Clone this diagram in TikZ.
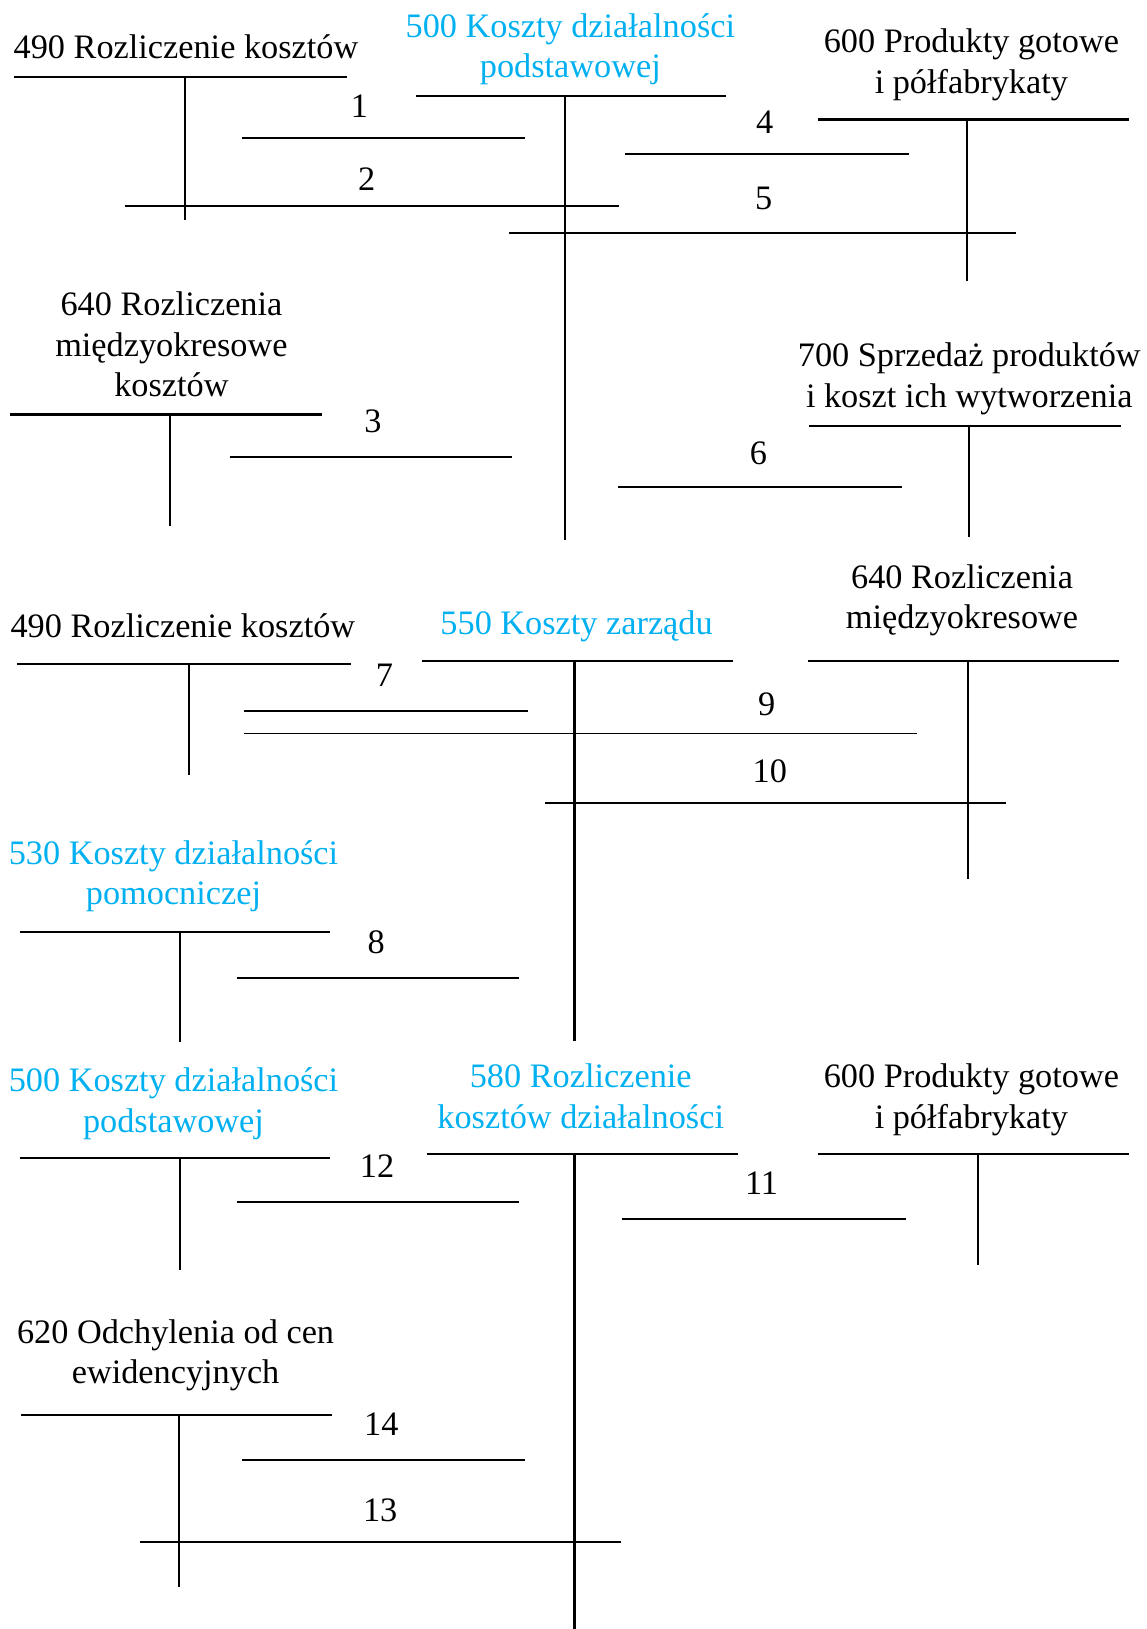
\documentclass[tikz,border=0pt]{standalone}
\usepackage{fontspec}
\setmainfont{Liberation Serif}
\usepackage{tikz}
\definecolor{acctblue}{RGB}{0,176,240}

\begin{document}
\begin{tikzpicture}[
    x=0.5pt, y=-0.5pt,
    % base = baseline of the last line
    acct title/.style={align=center, inner sep=0pt, anchor=base,
      font=\fontsize{16.5}{19.5}\selectfont},
    blue title/.style={acct title, text=acctblue},
    acct line/.style={line width=1pt},
    post line/.style={line width=0.85pt},
    post num/.style={inner sep=0pt, font=\fontsize{16.5}{19.5}\selectfont}
  ]
  \useasboundingbox (0,0) rectangle (1104,1568);

  % --- account titles ---
  \node[acct title] (t490a) at (179,56) {490 Rozliczenie kosztów};
  \node[blue title] (t500a) at (549,75) {500 Koszty działalności\\podstawowej};
  \node[acct title] (t600a) at (935,90) {600 Produkty gotowe\\i półfabrykaty};
  \node[acct title] (t640a) at (165,382) {640 Rozliczenia\\międzyokresowe\\kosztów};
  \node[acct title] (t700) at (933,392) {700 Sprzedaż produktów\\i koszt ich wytworzenia};
  \node[acct title] (t490b) at (176,614) {490 Rozliczenie kosztów};
  \node[blue title] (t550) at (555,611) {550 Koszty zarządu};
  \node[acct title] (t640b) at (926,605) {640 Rozliczenia\\międzyokresowe};
  \node[blue title] (t530) at (167,871) {530 Koszty działalności\\pomocniczej};
  \node[blue title] (t500b) at (167,1090) {500 Koszty działalności\\podstawowej};
  \node[blue title] (t580) at (559,1086) {580 Rozliczenie\\kosztów działalności};
  \node[acct title] (t600b) at (935,1086) {600 Produkty gotowe\\i półfabrykaty};
  \node[acct title] (t620) at (169,1332) {620 Odchylenia od cen\\ewidencyjnych};

  % --- T accounts: left/right/top/stem/bottom ---
  \foreach \l/\r/\t/\s/\b in {13/334/74/178/212, 400/699/92/544/520,
      787/1087/115/931/270, 10/310/399/164/506, 779/1079/410/933/517,
      16/338/639/182/746, 406/706/636/553/1002, 778/1077/636/932/846,
      19/318/897/173/1003, 19/318/1115/173/1222, 411/710/1111/553/1568,
      787/1087/1111/941/1218, 20/320/1362/172/1528} {
    \draw[acct line] (\l,\t) -- (\r,\t) (\s,\t) -- (\s,\b);
  }

  % --- postings: number/from/to/y/label x/label y ---
  \foreach \n/\xa/\xb/\y/\lx/\ly in {1/233/505/133/346/102, 2/120/596/198/353/172,
      3/221/493/440/359/406, 4/602/875/148/736/118, 5/490/978/224/735/191,
      6/595/868/469/730/436, 7/235/508/684/370/650, 8/228/500/941/362/907,
      9/235/883/706/738/678, 10/525/968/773/741/742, 11/599/872/1173/733/1139,
      12/228/500/1157/363/1122, 13/135/598/1484/366/1454, 14/233/505/1405/367/1371} {
    \node[post num] (p\n) at (\lx,\ly) {\n};
    \draw[post line] (\xa,\y) -- (\xb,\y);
  }

\end{tikzpicture}
\end{document}
